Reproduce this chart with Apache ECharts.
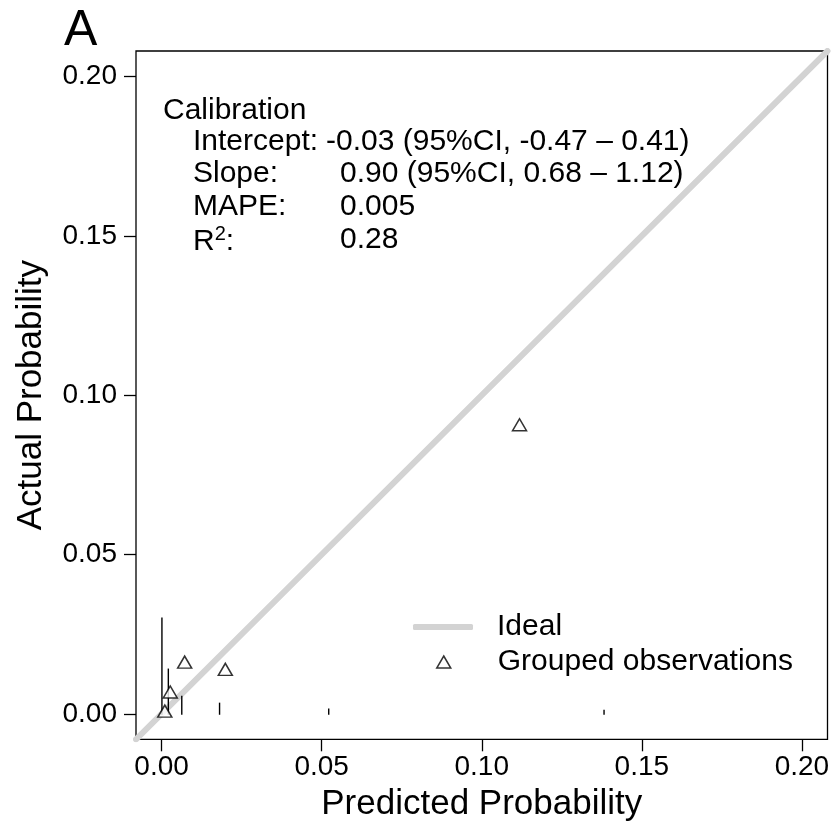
<!DOCTYPE html>
<html>
<head>
<meta charset="utf-8">
<script src="https://cdn.jsdelivr.net/npm/echarts@6/dist/echarts.min.js"></script>
<style>
html,body{margin:0;padding:0;background:#fff;}
#chart{width:837px;height:824px;}
</style>
</head>
<body>
<div id="chart"></div>
<script>
// ---- data ----
const axisMin = -0.008;
const axisMax = 0.208;
const tickValues = [0, 0.05, 0.10, 0.15, 0.20];
const tickLabels = ['0.00', '0.05', '0.10', '0.15', '0.20'];

const idealX = [-0.008, 0.208];
const idealY = [-0.008, 0.208];

const obsX = [0.0010, 0.0027, 0.0072, 0.0199, 0.1118];
const obsY = [0.0002, 0.0062, 0.0156, 0.0133, 0.0901];

const spikeX = [0.0001, 0.0021, 0.0063, 0.0181, 0.0522, 0.1382];
const spikeTop = [0.0302, 0.0142, 0.0057, 0.0035, 0.0017, 0.0013];
const spikeBase = -0.0003;

const annoTitle = 'Calibration';
const annoLabels = ['Intercept:', 'Slope:', 'MAPE:', 'R2'];
const annoValues = ['-0.03 (95%CI, -0.47 \u2013 0.41)', '0.90 (95%CI, 0.68 \u2013 1.12)', '0.005', '0.28'];

// ---- chart ----
const FONT = 'Liberation Sans, Arial, sans-serif';
const chart = echarts.init(document.getElementById('chart'), null, {renderer: 'canvas'});

const labelFmt = v => {
  const i = tickValues.findIndex(t => Math.abs(t - v) < 1e-9);
  return i >= 0 ? tickLabels[i] : '';
};

const annoGraphics = [];
const lineY0 = 113, lineStep = 32.6;
annoGraphics.push({type:'text', left:163, top: lineY0 - 17, style:{text: annoTitle, font: '30px ' + FONT, fill:'#000'}});
annoLabels.forEach((lab, i) => {
  const y = lineY0 + lineStep * (i + 1) - 17 - 2;
  if (lab === 'R2') {
    annoGraphics.push({type:'text', left:193, top:y, style:{text:'{a|R}{s|2}{a|:}', font:'30px ' + FONT, fill:'#000',
      rich:{a:{fontSize:30, fontFamily:FONT, fill:'#000'}, s:{fontSize:20, fontFamily:FONT, fill:'#000', verticalAlign:'top', padding:[0,0,14,0]}}}});
  } else {
    annoGraphics.push({type:'text', left:193, top:y, style:{text: lab, font:'30px ' + FONT, fill:'#000'}});
  }
  const vx = (i === 0) ? 326 : 340;
  annoGraphics.push({type:'text', left:vx, top:y, style:{text: annoValues[i], font:'30px ' + FONT, fill:'#000'}});
});

const option = {
  animation: false,
  backgroundColor: '#fff',
  title: {text: 'A', left: 59, top: 1, textStyle: {fontSize: 50, fontWeight: 'normal', fontFamily: FONT, color: '#000'}},
  grid: {left: 136, right: 9.5, top: 51, bottom: 84.7, show: true, borderColor: '#000', borderWidth: 1.3,
         containLabel: false, outerBoundsMode: 'none'},
  xAxis: {
    type: 'value', min: axisMin, max: axisMax,
    name: 'Predicted Probability', nameLocation: 'middle', nameGap: 48,
    nameTextStyle: {fontSize: 35, fontFamily: FONT, color: '#000'},
    axisLine: {show: false, onZero: false},
    splitLine: {show: false},
    axisTick: {show: true, inside: false, length: 12, customValues: tickValues, lineStyle: {color: '#000', width: 1.3}},
    axisLabel: {show: true, customValues: tickValues, formatter: labelFmt, margin: 14, fontSize: 28, fontFamily: FONT, color: '#000'}
  },
  yAxis: {
    type: 'value', min: axisMin, max: axisMax,
    name: 'Actual Probability', nameLocation: 'middle', nameGap: 87,
    nameTextStyle: {fontSize: 35, fontFamily: FONT, color: '#000'},
    axisLine: {show: false, onZero: false},
    splitLine: {show: false},
    axisTick: {show: true, inside: false, length: 12, customValues: tickValues, lineStyle: {color: '#000', width: 1.3}},
    axisLabel: {show: true, customValues: tickValues, formatter: labelFmt, margin: 19, fontSize: 28, fontFamily: FONT, color: '#000'}
  },
  legend: [
    {
      orient: 'vertical', left: 408, top: 607, itemWidth: 60, itemHeight: 6,
      data: [{name: 'Ideal', icon: 'roundRect'}],
      textStyle: {fontSize: 30, fontFamily: FONT, color: '#000', padding: [0, 0, 0, 19]}
    },
    {
      orient: 'vertical', left: 431, top: 642, itemWidth: 14, itemHeight: 12,
      data: [{name: 'Grouped observations', icon: 'triangle'}],
      itemStyle: {color: '#fff', borderColor: '#000', borderWidth: 1.5},
      textStyle: {fontSize: 30, fontFamily: FONT, color: '#000', padding: [0, 0, 0, 42]}
    }
  ],
  graphic: annoGraphics,
  series: [
    {
      name: 'Ideal', type: 'line', symbol: 'none', clip: true, z: 1,
      data: idealX.map((x, i) => [x, idealY[i]]),
      lineStyle: {color: '#d3d3d3', width: 6, cap: 'round'},
      itemStyle: {color: '#d3d3d3'}
    },
    {
      name: 'spikes', type: 'custom', z: 3,
      data: spikeX.map((x, i) => [x, spikeTop[i], spikeBase]),
      renderItem: (params, api) => {
        const p0 = api.coord([api.value(0), api.value(2)]);
        const p1 = api.coord([api.value(0), api.value(1)]);
        return {type: 'line', shape: {x1: p0[0], y1: p0[1], x2: p1[0], y2: p1[1]}, style: {stroke: '#000', lineWidth: 1.4}};
      }
    },
    {
      name: 'Grouped observations', type: 'scatter', z: 4,
      symbol: 'triangle', symbolSize: [14, 12], symbolOffset: [0, -2],
      data: obsX.map((x, i) => [x, obsY[i]]),
      itemStyle: {color: '#fff', borderColor: '#000', borderWidth: 1.5}
    }
  ]
};
chart.setOption(option);
</script>
</body>
</html>
